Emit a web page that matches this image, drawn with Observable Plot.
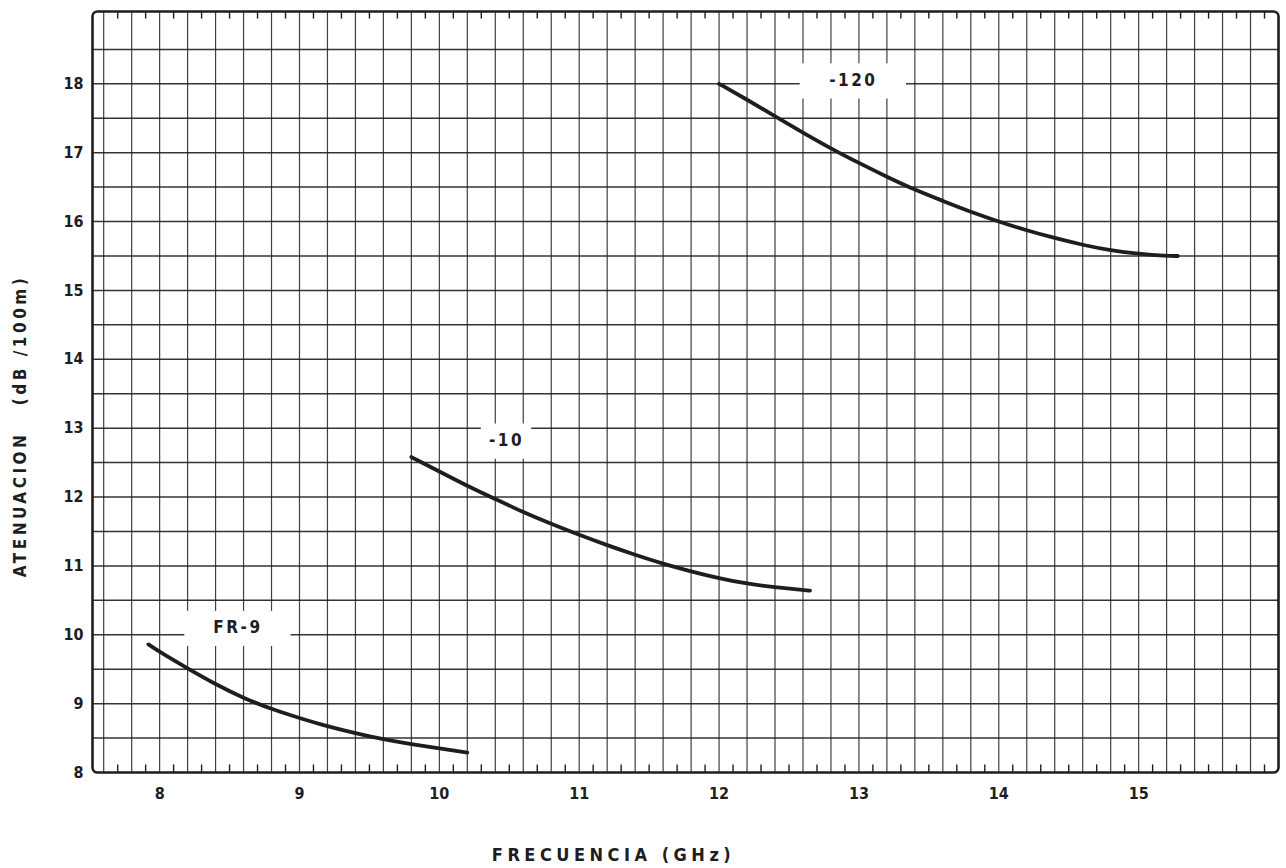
<!DOCTYPE html>
<html>
<head>
<meta charset="utf-8">
<script src="https://cdn.jsdelivr.net/npm/d3@7"></script>
<script src="https://cdn.jsdelivr.net/npm/@observablehq/plot@0.6"></script>
<style>
  body { margin: 0; background: #fff; }
  #chart svg { display: block; }
</style>
</head>
<body>
<div id="chart"></div>
<script>
// ---- Data ----
const fr9X  = [7.92, 8.0, 8.2, 8.4, 8.6, 8.8, 9.0, 9.2, 9.4, 9.6, 9.8, 10.0, 10.2];
const fr9Y  = [9.86, 9.75, 9.51, 9.28, 9.08, 8.92, 8.79, 8.67, 8.57, 8.48, 8.41, 8.35, 8.29];
const w10X  = [9.8, 10.0, 10.2, 10.4, 10.6, 10.8, 11.0, 11.2, 11.4, 11.6, 11.8, 12.0, 12.2, 12.4, 12.6, 12.65];
const w10Y  = [12.58, 12.37, 12.16, 11.97, 11.78, 11.61, 11.45, 11.3, 11.16, 11.03, 10.92, 10.82, 10.74, 10.69, 10.65, 10.64];
const w120X = [12.0, 12.2, 12.4, 12.6, 12.8, 13.0, 13.2, 13.4, 13.6, 13.8, 14.0, 14.2, 14.4, 14.6, 14.8, 15.0, 15.2, 15.28];
const w120Y = [18.0, 17.77, 17.53, 17.29, 17.06, 16.85, 16.65, 16.46, 16.3, 16.14, 16.0, 15.87, 15.76, 15.66, 15.58, 15.53, 15.5, 15.5];

const seriesNames = ["FR-9", "-10", "-120"];
const labelX = [8.56, 10.48, 12.96];
const labelY = [10.1, 12.82, 18.05];

const xTicks = [8, 9, 10, 11, 12, 13, 14, 15];
const yTicks = [8, 9, 10, 11, 12, 13, 14, 15, 16, 17, 18];
const xTitle = "FRECUENCIA (GHz)";
const yTitle = "ATENUACION   (dB /100m)";

// ---- Build tables ----
const xDomain = [7.52, 16.0];
const yDomain = [8, 19.05];
const allX = [fr9X, w10X, w120X];
const allY = [fr9Y, w10Y, w120Y];
const curves = seriesNames.flatMap((s, k) => allX[k].map((x, i) => ({series: s, x, y: allY[k][i]})));
const labels = seriesNames.map((s, k) => ({text: s, x: labelX[k], y: labelY[k]}));

const xGrid = d3.range(38, 80).map(i => i / 5);          // every 0.2 GHz
const yGrid = d3.range(17, 38).map(i => i / 2);          // every 0.5 dB
const minor = d3.range(77, 160, 2).map(i => i / 10);     // every odd 0.1 GHz

const ink = "#1e1e1e";
const fontFamily = "'DejaVu Sans Condensed', 'DejaVu Sans', sans-serif";
const halfW = d => 0.2 * d.text.length - 0.42;

const chart = Plot.plot({
  width: 1286,
  height: 868,
  marginLeft: 92,
  marginRight: 8,
  marginTop: 11,
  marginBottom: 96,
  style: {fontFamily, fontSize: "16px", fontWeight: "bold", color: ink, background: "#fff"},
  x: {domain: xDomain},
  y: {domain: yDomain},
  marks: [
    Plot.ruleX(xGrid, {stroke: ink, strokeWidth: 1.2, strokeOpacity: 0.85}),
    Plot.ruleY(yGrid, {stroke: ink, strokeWidth: 1.5, strokeOpacity: 0.9}),
    Plot.ruleX(minor, {y1: yDomain[0], y2: yDomain[0] + 0.11, stroke: ink, strokeWidth: 1.4}),
    Plot.ruleX(minor, {y1: yDomain[1], y2: yDomain[1] - 0.11, stroke: ink, strokeWidth: 1.4}),
    Plot.rect(labels, {x1: d => d.x - halfW(d), x2: d => d.x + halfW(d), y1: d => d.y - 0.27, y2: d => d.y + 0.24, fill: "#fff"}),
    Plot.line(curves, {x: "x", y: "y", z: "series", stroke: ink, strokeWidth: 3.8, curve: "basis", strokeLinecap: "round"}),
    Plot.text(labels, {x: "x", y: "y", text: "text", fontSize: 17, fontWeight: "bold", fill: ink}),
    Plot.frame({stroke: ink, strokeWidth: 2.6, rx: 5}),
    Plot.axisX(xTicks, {tickSize: 0, tickPadding: 15, label: null, fontSize: 16, tickFormat: d => String(d)}),
    Plot.axisY(yTicks, {tickSize: 0, tickPadding: 9, label: null, fontSize: 16, tickFormat: d => String(d)}),
    Plot.text([xTitle], {text: d => d, frameAnchor: "bottom", textAnchor: "middle", lineAnchor: "middle", dx: -72, dy: 83, fontSize: 18, fontWeight: "bold", fill: ink}),
    Plot.text([yTitle], {text: d => d, frameAnchor: "left", textAnchor: "middle", lineAnchor: "middle", rotate: -90, dx: -72, dy: 34, fontSize: 17, fontWeight: "bold", fill: ink})
  ]
});

document.getElementById("chart").append(chart);
d3.select(chart).selectAll("text")
  .filter(function () { return this.textContent === xTitle; })
  .style("letter-spacing", "4.5px");
d3.select(chart).selectAll("text")
  .filter(function () { return this.textContent === yTitle; })
  .style("letter-spacing", "3.5px");
d3.select(chart).selectAll("text")
  .filter(function () { return seriesNames.includes(this.textContent); })
  .style("letter-spacing", "2.5px");
</script>
</body>
</html>
